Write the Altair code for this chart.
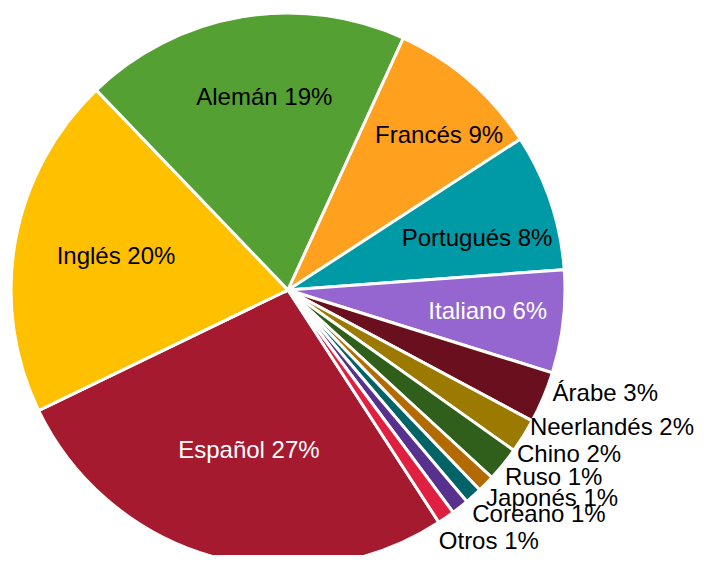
import altair as alt
import pandas as pd
import math

# ---- data ----
languages = ["Español", "Inglés", "Alemán", "Francés", "Portugués", "Italiano",
             "Árabe", "Neerlandés", "Chino", "Ruso", "Japonés", "Coreano", "Otros"]
percents = [27, 20, 19, 9, 8, 6, 3, 2, 2, 1, 1, 1, 1]

# ---- style ----
colors = ["#A61A30", "#FFC000", "#55A033", "#FFA01E", "#0099A6", "#9566D0",
          "#6A0F1E", "#9C7A00", "#2F5F1A", "#B36A00", "#006366", "#58308E", "#E02040"]
inside = ["Español", "Inglés", "Alemán", "Francés", "Portugués", "Italiano"]
white_text = ["Español", "Italiano"]
# small label nudges (pixels) so that labels do not collide
nudge_x = [12, 15, 8, 27, 9, 11, 0, -2, 6, 12, 6, 6, -13]
nudge_y = [-22, 1, -5, -10, 10, 0, -7, -13, -16, -13, -4, 0, 16]

df = pd.DataFrame({"lang": languages, "pct": percents, "idx": list(range(len(languages)))})

start = math.radians(147)
theta_scale = alt.Scale(domain=[0, 100], range=[start, start + 2 * math.pi])
cx, cy = 280, 282

base = alt.Chart(df).transform_window(
    cum="sum(pct)", sort=[alt.SortField("idx")], frame=[None, 0]
).transform_calculate(
    mid="datum.cum - datum.pct / 2",
    label="datum.lang + ' ' + datum.pct + '%'",
    isin="indexof(" + str(inside) + ", datum.lang) >= 0",
    tc="indexof(" + str(white_text) + ", datum.lang) >= 0 ? 'white' : 'black'",
    ndx=str(nudge_x) + "[datum.idx]",
    ndy=str(nudge_y) + "[datum.idx]",
)

arcs = base.mark_arc(radius=277, stroke="white", strokeWidth=3).encode(
    theta=alt.Theta("pct:Q", stack=True, scale=theta_scale),
    order=alt.Order("idx:Q"),
    color=alt.Color("lang:N", scale=alt.Scale(domain=languages, range=colors), legend=None),
    x=alt.value(cx), y=alt.value(cy),
)

in_text = base.transform_filter("datum.isin").mark_text(
    radius=190, fontSize=24, font="Liberation Sans", align="center", baseline="middle"
).encode(
    theta=alt.Theta("mid:Q", stack=None, scale=theta_scale),
    text="label:N",
    color=alt.Color("tc:N", scale=None),
    x=alt.value(cx), y=alt.value(cy),
    xOffset=alt.XOffset("ndx:Q", scale=None),
    yOffset=alt.YOffset("ndy:Q", scale=None),
)

out_text = base.transform_filter("!datum.isin").mark_text(
    radius=287, fontSize=24, font="Liberation Sans", align="left", baseline="middle",
    color="black"
).encode(
    theta=alt.Theta("mid:Q", stack=None, scale=theta_scale),
    text="label:N",
    x=alt.value(cx), y=alt.value(cy),
    xOffset=alt.XOffset("ndx:Q", scale=None),
    yOffset=alt.YOffset("ndy:Q", scale=None),
)

chart = alt.layer(arcs, in_text, out_text).properties(
    width=560, height=547,
    autosize=alt.AutoSizeParams(type="none"),
    padding={"left": 0, "top": 0, "right": 128, "bottom": 0},
).configure_view(stroke=None)

chart.save("out.html", embed_options={"renderer": "svg", "actions": False})
